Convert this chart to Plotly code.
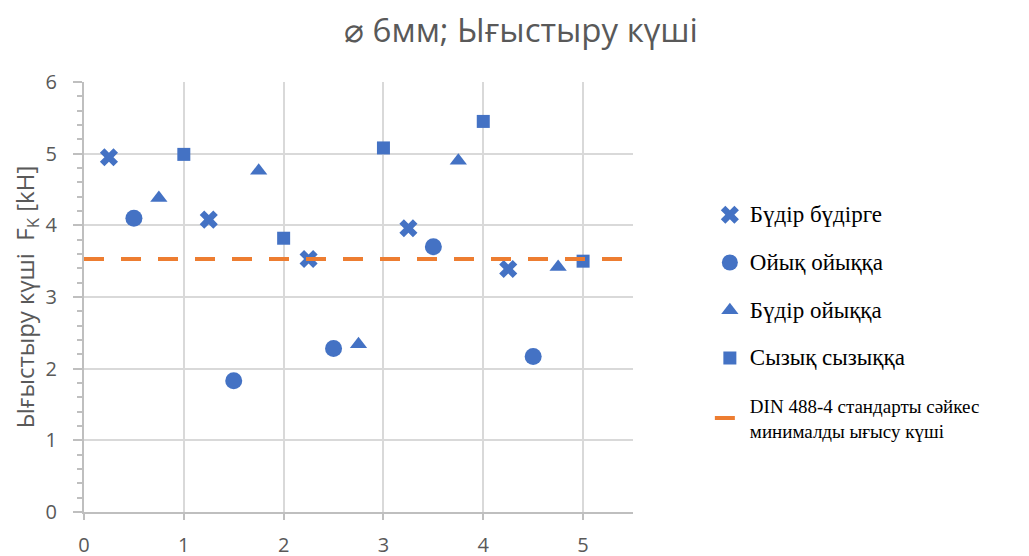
import plotly.graph_objects as go

title_text = "⌀ 6мм; Ығыстыру күші"
y_title = "Ығыстыру күші  F<sub>K</sub> [kH]"

cross_name = "Бүдір бүдірге"
cross_x = [0.25, 1.25, 2.25, 3.25, 4.25]
cross_y = [4.95, 4.08, 3.53, 3.96, 3.39]

circle_name = "Ойық ойыққа"
circle_x = [0.5, 1.5, 2.5, 3.5, 4.5]
circle_y = [4.10, 1.83, 2.28, 3.70, 2.17]

tri_name = "Бүдір ойыққа"
tri_x = [0.75, 1.75, 2.75, 3.75, 4.75]
tri_y = [4.38, 4.76, 2.34, 4.90, 3.42]

sq_name = "Сызық сызыққа"
sq_x = [1.0, 2.0, 3.0, 4.0, 5.0]
sq_y = [4.99, 3.82, 5.08, 5.45, 3.50]

din_name = "DIN 488-4 стандарты сәйкес<br>минималды ығысу күші"
din_x = [0, 5.5]
din_y = [3.53, 3.53]

x_ticks = [0, 1, 2, 3, 4, 5]

blue = "#4472C4"
orange = "#ED7D31"
grey = "#595959"


def big(name):
    return '<span style="font-size:23px">' + name + '</span>'


fig = go.Figure()
fig.add_trace(go.Scatter(x=cross_x, y=cross_y, mode="markers", name=big(cross_name), legendgroup="a",
                         marker=dict(symbol="x", size=16, color=blue)))
fig.add_trace(go.Scatter(x=circle_x, y=circle_y, mode="markers", name=big(circle_name), legendgroup="b",
                         marker=dict(symbol="circle", size=17, color=blue)))
fig.add_trace(go.Scatter(x=tri_x, y=tri_y, mode="markers", name=big(tri_name), legendgroup="c",
                         marker=dict(symbol="triangle-up", size=15, color=blue)))
fig.add_trace(go.Scatter(x=sq_x, y=sq_y, mode="markers", name=big(sq_name), legendgroup="d",
                         marker=dict(symbol="square", size=13, color=blue)))
fig.add_trace(go.Scatter(x=din_x, y=din_y, mode="lines", name=din_name, legendgroup="e",
                         line=dict(color=orange, width=4, dash="20px,17px")))

fig.update_layout(
    width=1029, height=556,
    paper_bgcolor="white", plot_bgcolor="white",
    margin=dict(l=76, r=404, t=74, b=52),
    title=dict(text=title_text, x=0.4985, xanchor="center", y=0.96, yanchor="middle",
               font=dict(family="Open Sans", size=33, color=grey)),
    font=dict(family="Open Sans", color=grey),
    xaxis=dict(range=[0, 5.5], tickvals=x_ticks, showgrid=True, gridcolor="#D9D9D9",
               gridwidth=2, zeroline=False, showline=True, linecolor="#BFBFBF", linewidth=2,
               ticks="outside", ticklen=6, tickcolor="#BFBFBF", tickwidth=1.5,
               ticklabelstandoff=8, automargin=False,
               tickfont=dict(size=20, color=grey)),
    yaxis=dict(range=[0, 6], dtick=1, showgrid=True, gridcolor="#D9D9D9", gridwidth=2,
               zeroline=False, showline=True, linecolor="#BFBFBF", linewidth=2,
               ticks="outside", ticklen=9, tickcolor="#BFBFBF", tickwidth=1.5,
               minor=dict(dtick=0.2, ticks="outside", ticklen=5, tickcolor="#BFBFBF", showgrid=False),
               ticklabelstandoff=12, automargin=False,
               tickfont=dict(size=20, color=grey),
               title=dict(text=y_title, font=dict(size=24, color=grey), standoff=8)),
    legend=dict(x=1.14, y=0.735, xanchor="left", yanchor="top",
                font=dict(family="Liberation Serif", size=19, color="black"),
                tracegroupgap=20, traceorder="grouped", bgcolor="rgba(0,0,0,0)"),
)

fig.write_html("out.html")
